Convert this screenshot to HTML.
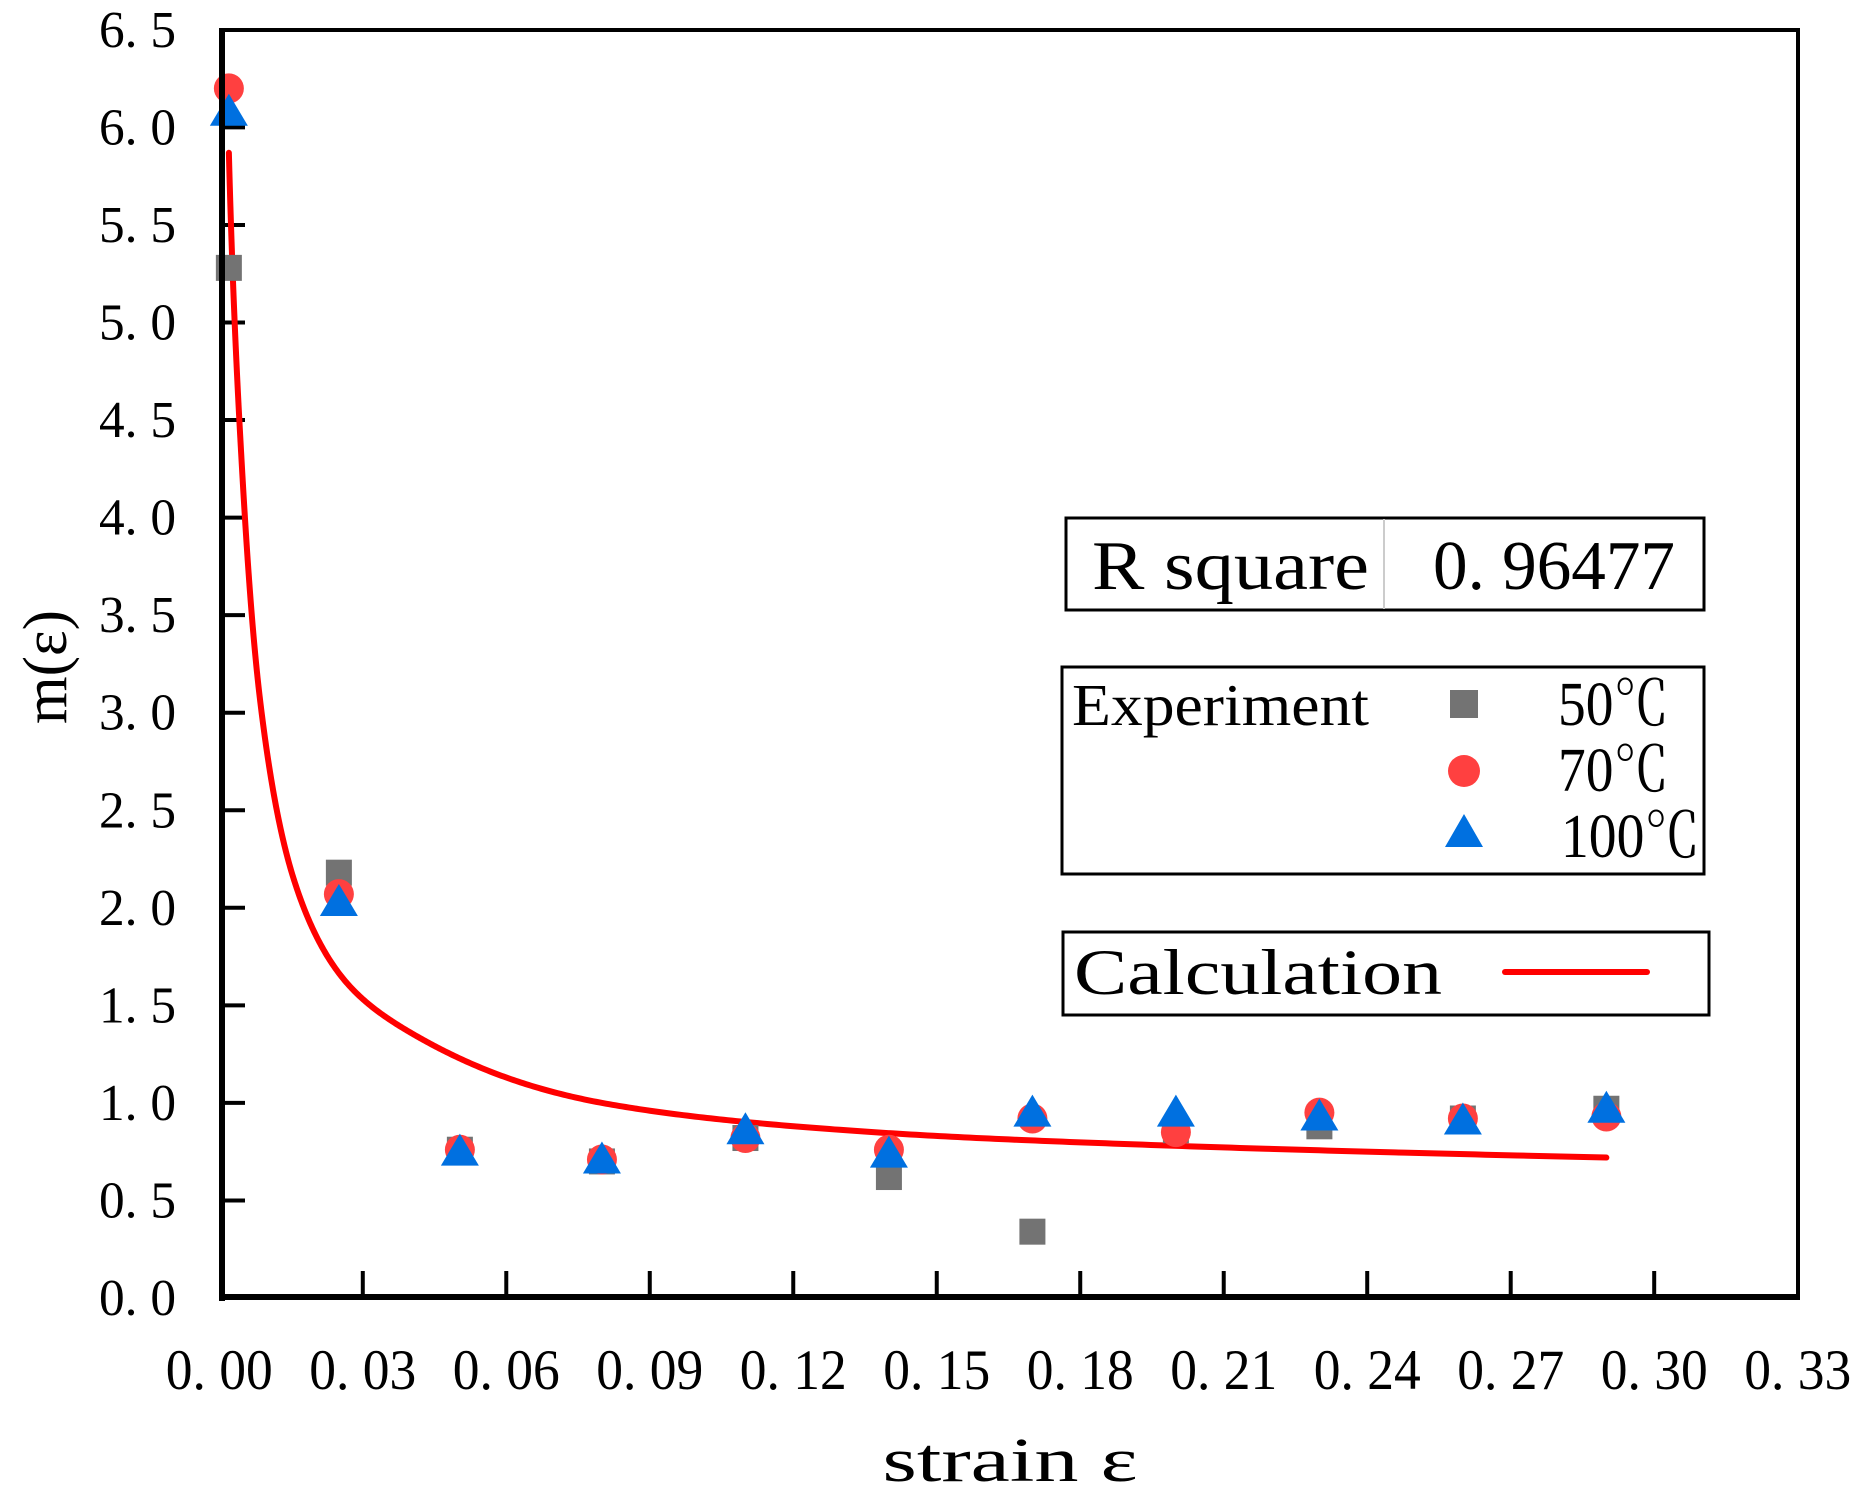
<!DOCTYPE html>
<html><head><meta charset="utf-8"><style>
html,body{margin:0;padding:0;background:#fff;}
svg{display:block;}
text{font-family:"Liberation Serif","Noto Serif CJK SC",serif;fill:#000;}
</style></head><body>
<svg id="s" width="1855" height="1490" viewBox="0 0 1855 1490" xmlns="http://www.w3.org/2000/svg">
<rect width="1855" height="1490" fill="#fff"/>
<g id="ticks"></g>
<path id="curve" fill="none" stroke="#ff0000" stroke-width="6" stroke-linecap="round" stroke-linejoin="round"/>
<g id="marks"></g>
<line x1="222" y1="30" x2="1798" y2="30" stroke="#000" stroke-width="4"/>
<line x1="1798" y1="28" x2="1798" y2="1300" stroke="#000" stroke-width="4"/>
<line x1="222" y1="28" x2="222" y2="1301" stroke="#000" stroke-width="6"/>
<line x1="219" y1="1297" x2="1800" y2="1297" stroke="#000" stroke-width="6"/>
<text x="1010" y="1481" font-size="62" text-anchor="middle" textLength="255" lengthAdjust="spacingAndGlyphs">strain ε</text>
<text transform="translate(66,667) rotate(-90)" x="0" y="0" font-size="62" text-anchor="middle" textLength="114" lengthAdjust="spacingAndGlyphs">m(ε)</text>
<rect x="1066" y="518" width="638" height="92" fill="#fff" stroke="#000" stroke-width="3"/>
<line x1="1384" y1="519" x2="1384" y2="609" stroke="#ccc" stroke-width="2"/>
<text x="1092" y="589" font-size="70" textLength="277" lengthAdjust="spacingAndGlyphs">R square</text>
<text x="1433" y="589" font-size="70" textLength="242" lengthAdjust="spacingAndGlyphs">0. 96477</text>
<rect x="1062" y="667" width="642" height="207" fill="#fff" stroke="#000" stroke-width="3"/>
<text x="1072" y="725" font-size="59" textLength="297" lengthAdjust="spacingAndGlyphs">Experiment</text>
<rect x="1450" y="690" width="28" height="28" fill="#737373"/>
<circle cx="1464" cy="771" r="16" fill="#ff4040"/>
<polygon points="1464,814 1483,847 1445,847" fill="#0070e0"/>
<text x="1558" y="725" font-size="62" textLength="111" lengthAdjust="spacingAndGlyphs">50℃</text>
<text x="1558" y="791" font-size="62" textLength="111" lengthAdjust="spacingAndGlyphs">70℃</text>
<text x="1561" y="857" font-size="62" textLength="139" lengthAdjust="spacingAndGlyphs">100℃</text>
<rect x="1063" y="932" width="646" height="83" fill="#fff" stroke="#000" stroke-width="3"/>
<text x="1074" y="994" font-size="65" textLength="368" lengthAdjust="spacingAndGlyphs">Calculation</text>
<line x1="1505" y1="972" x2="1647" y2="972" stroke="#ff0000" stroke-width="6" stroke-linecap="round"/>
</svg>
<script>
var X=function(v){return 219.3+v*4783;};
var Y=function(v){return 1298-v*195.1;};
var NS="http://www.w3.org/2000/svg";
function el(t,a,p,txt){var e=document.createElementNS(NS,t);for(var k in a)e.setAttribute(k,a[k]);if(txt)e.textContent=txt;p.appendChild(e);return e;}
var tk=document.getElementById("ticks");
for(var i=1;i<=10;i++){var x=X(i*0.03);el("line",{x1:x,y1:1297,x2:x,y2:1271,stroke:"#000","stroke-width":4},tk);}
for(var i=0;i<=11;i++){var x=X(i*0.03);var s=(i*0.03).toFixed(2).replace(".",". ");
el("text",{x:x,y:1389,"font-size":57,"text-anchor":"middle",textLength:107,lengthAdjust:"spacingAndGlyphs"},tk,s);}
for(var i=0;i<=13;i++){var v=i*0.5;var y=Y(v);
if(i>0&&i<13)el("line",{x1:222,y1:y,x2:245,y2:y,stroke:"#000","stroke-width":4},tk);
el("text",{x:176,y:y+17,"font-size":52,"text-anchor":"end",textLength:77,lengthAdjust:"spacingAndGlyphs"},tk,v.toFixed(1).replace(".",". "));}
// monotone cubic interpolation in log-x
var pts=[[0.002,5.87],[0.0043,4.45],[0.0085,3.07],[0.0154,2.16],[0.0258,1.64],[0.04,1.36],[0.08,1.0],[0.14,0.845],[0.20,0.78],[0.29,0.72]];
var u=pts.map(function(p){return Math.log(p[0]);}),yv=pts.map(function(p){return p[1];});
var n=u.length,dl=[],m=[];
for(var i=0;i<n-1;i++)dl.push((yv[i+1]-yv[i])/(u[i+1]-u[i]));
m[0]=dl[0];m[n-1]=dl[n-2];
for(var i=1;i<n-1;i++){m[i]=(dl[i-1]*dl[i]<=0)?0:2/(1/dl[i-1]+1/dl[i]);}
function f(x){var t=Math.log(x);var i=0;while(i<n-2&&t>u[i+1])i++;
var h=u[i+1]-u[i],s=(t-u[i])/h,s2=s*s,s3=s2*s;
return (2*s3-3*s2+1)*yv[i]+(s3-2*s2+s)*h*m[i]+(-2*s3+3*s2)*yv[i+1]+(s3-s2)*h*m[i+1];}
var d="";
for(var k=0;k<=600;k++){var lx=Math.log(0.002)+(Math.log(0.29)-Math.log(0.002))*k/600;var x=Math.exp(lx);
d+=(k?" L":"M")+X(x).toFixed(2)+","+Y(f(x)).toFixed(2);}
document.getElementById("curve").setAttribute("d",d);
var xs=[0.002,0.025,0.0503,0.08,0.11,0.14,0.17,0.2,0.23,0.26,0.29];
var a=[5.28,2.18,0.76,0.70,0.82,0.62,0.34,0.86,0.88,0.92,0.97];
var b=[6.2,2.07,0.76,0.71,0.82,0.76,0.92,0.85,0.95,0.92,0.93];
var c=[6.08,2.03,0.75,0.71,0.86,0.74,0.95,0.95,0.93,0.91,0.97];
var mk=document.getElementById("marks");
for(var i=0;i<11;i++){var x=X(xs[i]);el("rect",{x:x-13,y:Y(a[i])-13,width:26,height:26,fill:"#737373"},mk);}
for(var i=0;i<11;i++){var x=X(xs[i]);el("circle",{cx:x,cy:Y(b[i]),r:15,fill:"#ff4040"},mk);}
for(var i=0;i<11;i++){var x=X(xs[i]),y=Y(c[i]);
el("polygon",{points:x+","+(y-18)+" "+(x+19)+","+(y+14)+" "+(x-19)+","+(y+14),fill:"#0070e0"},mk);}
</script>
</body></html>
